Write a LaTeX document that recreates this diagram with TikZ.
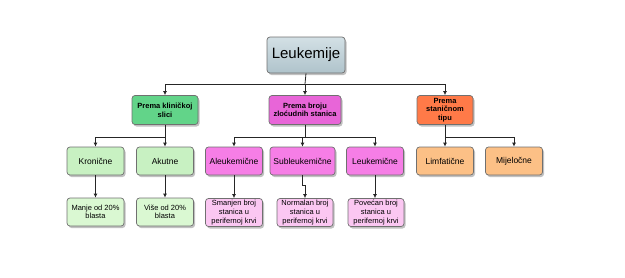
\documentclass[tikz,border=0pt]{standalone}
\usepackage{fontspec}
\setmainfont{Liberation Sans}
\usetikzlibrary{arrows.meta,positioning,calc,shadows}
\definecolor{lkborder}{HTML}{707070}
\definecolor{lkroottop}{HTML}{D3E0E5}
\definecolor{lkrootbot}{HTML}{AFC3CB}
\definecolor{lkgreen}{HTML}{62D489}
\definecolor{lkpink}{HTML}{E865D8}
\definecolor{lkorange}{HTML}{FF7A48}
\definecolor{lkgreenii}{HTML}{C8F1C2}
\definecolor{lkpinkii}{HTML}{F67EE6}
\definecolor{lkorangeii}{HTML}{FCC086}
\definecolor{lkgreeniii}{HTML}{DAF8D2}
\definecolor{lkpinkiii}{HTML}{FBC7F2}
\tikzset{
 lk flow/.style={-{Latex[length=4pt,width=4pt]},line width=.8pt,draw=black!85},
 lk line/.style={line width=.8pt,draw=black!85},
 lk box/.style={draw=lkborder,line width=.7pt,rounded corners=3pt,inner sep=0pt,
   align=center,minimum height=28pt,
   drop shadow={shadow xshift=1.5pt,shadow yshift=-2pt,opacity=.35,fill=black!70}},
 lk head/.style={lk box,font=\fontsize{7.5}{8.5}\selectfont\bfseries,minimum height=29pt},
 lk kind/.style={lk box,font=\fontsize{8.5}{10}\selectfont,minimum width=57pt},
 lk note/.style={lk box,font=\fontsize{7.5}{8.6}\selectfont,minimum width=57pt}
}
\begin{document}
\begin{tikzpicture}[x=1pt,y=-1pt]
\useasboundingbox (0,0) rectangle (625,277);
% korijen
\node[lk box,minimum width=78pt,minimum height=36pt,top color=lkroottop,bottom color=lkrootbot,
  font=\fontsize{15}{17}\selectfont] (root) at (306,55) {Leukemije};
% podjele
\node[lk head,fill=lkgreen,minimum width=66pt] (klin) at (165,110) {Prema kliničkoj\\slici};
\node[lk head,fill=lkpink,minimum width=72pt] (broj) at (305,110) {Prema broju\\zloćudnih stanica};
\node[lk head,fill=lkorange,minimum width=56pt] (tip) at (445,110) {Prema\\staničnom\\tipu};
\coordinate (bar) at (305,84);
\draw[lk line] (root.south) -- (bar);
\draw[lk flow] (bar) -| (klin.north);
\draw[lk flow] (bar) -- (broj.north);
\draw[lk flow] (bar) -| (tip.north);
% klinicka slika
\node[lk kind,fill=lkgreenii] (kron) at (95.5,161) {Kronične};
\node[lk kind,fill=lkgreenii] (akut) at (165,161) {Akutne};
\node[lk note,fill=lkgreeniii] (manje) at (95.5,212) {Manje od 20\%\\blasta};
\node[lk note,fill=lkgreeniii] (vise) at (165,212) {Više od 20\%\\blasta};
\draw[lk line] (klin.south) -- (165,137);
\draw[lk flow] (165,137) -| (kron.north);
\draw[lk flow] (165,137) -- (akut.north);
\draw[lk flow] (kron) -- (manje);
\draw[lk flow] (akut) -- (vise);
% broj stanica
\node[lk kind,fill=lkpinkii] (aleuk) at (234,161) {Aleukemične};
\node[lk kind,fill=lkpinkii,minimum width=65pt] (subleuk) at (302.5,161) {Subleukemične};
\node[lk kind,fill=lkpinkii] (leuk) at (375,161) {Leukemične};
\node[lk note,fill=lkpinkiii] (smanj) at (234,212.5) {Smanjen broj\\stanica u\\perifernoj krvi};
\node[lk note,fill=lkpinkiii,minimum width=56pt] (norm) at (305,212.5) {Normalan broj\\stanica u\\perifernoj krvi};
\node[lk note,fill=lkpinkiii,minimum width=56pt] (pov) at (376,212.5) {Povećan broj\\stanica u\\perifernoj krvi};
\draw[lk line] (broj.south) -- (305,137);
\draw[lk flow] (305,137) -| (aleuk.north);
\draw[lk flow] (305,137) -| (subleuk.north);
\draw[lk flow] (305,137) -| (leuk.north);
\draw[lk flow] (aleuk) -- (smanj);
\draw[lk flow] (subleuk.south) -- ++(0,10) -| (norm.north);
\draw[lk flow] (leuk) -- (leuk |- pov.north);
% stanicni tip
\node[lk kind,fill=lkorangeii] (limf) at (445,161) {Limfatične};
\node[lk kind,fill=lkorangeii] (mijel) at (514,161) {Mijeločne};
\draw[lk line] (tip.south) -- (445,137);
\draw[lk flow] (445,137) -- (limf.north);
\draw[lk flow] (445,137) -| (mijel.north);
\end{tikzpicture}
\end{document}
